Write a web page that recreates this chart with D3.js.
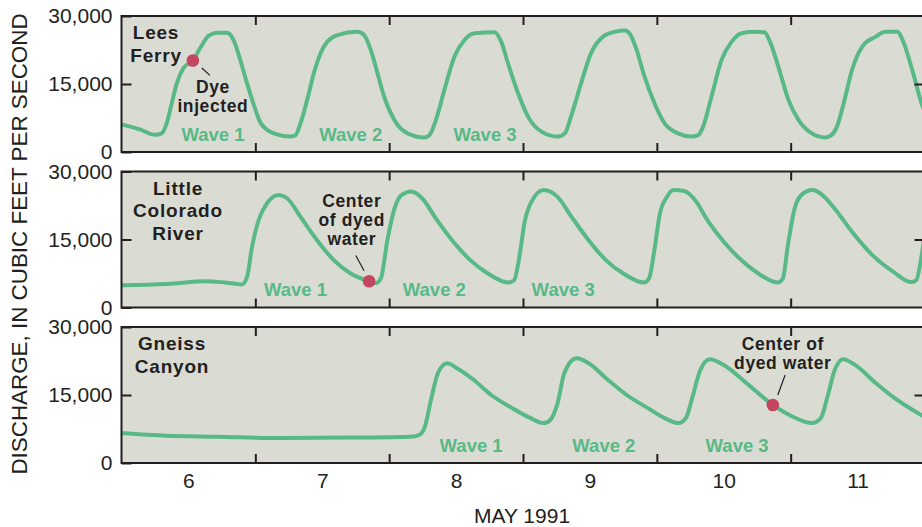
<!DOCTYPE html>
<html>
<head>
<meta charset="utf-8">
<script src="https://cdn.jsdelivr.net/npm/d3@7"></script>
<style>
  body { margin: 0; background: #fff; }
  svg text { font-family: "Liberation Sans", Arial, Helvetica, sans-serif; fill: #231f20; }
</style>
</head>
<body>
<div id="chart"></div>
<script>
// discharge (cubic feet per second) against hours after 00:00, May 6 1991
var leesFerry = [
  [0, 6100], [3.3, 5000], [6.0, 3800], [7.2, 4100], [8.1, 6300], [9.0, 10700],
  [9.9, 15100], [11.1, 18500], [12.8, 20200], [14.1, 22900], [15.6, 25600], [17.1, 26300],
  [18.9, 26300], [20.1, 24700], [21.3, 20300], [22.5, 15200], [23.7, 10500], [25.0, 6300],
  [27.3, 4100], [30.3, 3400], [31.2, 3700], [32.1, 6300], [33.3, 11500], [34.5, 17400],
  [35.7, 21800], [36.9, 24300], [38.7, 25800], [42.3, 26500], [43.5, 25800], [44.7, 22500],
  [45.9, 17400], [47.1, 12200], [48.9, 7100], [51.3, 4100], [54.3, 3200], [55.2, 3700],
  [56.4, 7100], [57.9, 13700], [59.7, 21000], [61.5, 24700], [63.3, 26200], [66.9, 26400],
  [68.1, 24300], [69.3, 19600], [71.1, 13000], [72.9, 7800], [75.3, 4500], [78.3, 3400],
  [79.5, 4100], [80.6, 7800], [82.4, 15100], [84.2, 21800], [86.3, 25400], [88.4, 26500],
  [90.3, 26800], [91.1, 26200], [92.3, 22800], [93.8, 16600], [95.6, 10700], [97.4, 6300],
  [99.8, 4100], [102.2, 3400], [103.4, 3700], [104.3, 5600], [105.8, 12200], [107.6, 20300],
  [109.4, 24300], [111.2, 26200], [113.6, 26500], [115.3, 26400], [116.3, 24300], [117.8, 18800],
  [119.6, 11500], [121.4, 7100], [123.8, 4100], [126.2, 3200], [127.3, 3700], [128.3, 5600],
  [129.5, 10700], [131.0, 18100], [132.8, 23200], [135.2, 25400], [137.0, 26500], [139.1, 26500],
  [140.3, 24000], [141.8, 18100], [143.9, 9300], [144.5, 8000]
];

var littleColorado = [
  [0, 4900], [8.1, 5200], [15.3, 5800], [20.1, 5300], [21.6, 5100], [22.5, 6700],
  [23.4, 13300], [24.6, 19300], [26.1, 23000], [28.2, 24800], [29.7, 24100], [32.1, 20000],
  [35.1, 14800], [38.1, 10400], [41.1, 7500], [44.4, 5800], [45.6, 5400], [46.5, 6400],
  [47.7, 15000], [49.0, 22000], [50.2, 24800], [52.0, 25600], [53.9, 24100], [56.4, 19600],
  [59.5, 14500], [62.6, 10400], [65.7, 7500], [69.4, 5500], [70.4, 6000], [71.3, 10800],
  [72.3, 18900], [73.5, 23300], [75.7, 25900], [78.2, 24400], [80.7, 20000], [83.8, 14800],
  [86.9, 10400], [90.0, 7500], [93.7, 5500], [94.6, 6400], [95.6, 13000], [96.5, 20400],
  [97.8, 24400], [99.0, 25900], [100.9, 25700], [103.1, 23300], [104.9, 19600], [108.0, 14500],
  [111.2, 10400], [114.2, 7500], [117.7, 5500], [118.6, 6400], [119.5, 13700], [120.7, 21800],
  [122.0, 24900], [123.9, 25900], [125.7, 24800], [127.9, 21800], [131.0, 16700], [134.7, 11500],
  [138.5, 7800], [141.6, 5600], [142.5, 6000], [143.4, 10800], [144.2, 18000]
];

var gneissCanyon = [
  [0, 6600], [8.1, 6000], [17.1, 5800], [29.1, 5500], [41.1, 5600], [51.9, 5800],
  [53.4, 6200], [54.4, 8000], [55.6, 14500], [56.8, 20000], [58.4, 22000], [60.3, 20800],
  [63.2, 18300], [66.3, 15000], [70.1, 12100], [73.2, 10000], [75.7, 8800], [76.9, 9500],
  [78.2, 13200], [79.4, 19800], [81.6, 23100], [83.8, 22000], [86.9, 18700], [90.6, 15000],
  [94.4, 12100], [97.4, 9900], [99.9, 8800], [101.2, 9900], [102.4, 14600], [103.7, 20200],
  [105.5, 22900], [108.0, 21600], [111.8, 17900], [116.8, 12800], [120.4, 10200], [123.8, 8800],
  [125.4, 9900], [126.6, 14600], [127.9, 20500], [129.4, 22900], [131.6, 21600], [135.3, 17600],
  [139.1, 13900], [144.5, 9800]
];

var panelNames = [["Lees", "Ferry"], ["Little", "Colorado", "River"], ["Gneiss", "Canyon"]];
var dayTicks = [24, 48, 72, 96, 120];
var dayLabels = ["6", "7", "8", "9", "10", "11"];
var yTicks = [0, 15000, 30000];
var dyeHour = [12.8, 44.4, 116.8];
var dyeCfs = [20200, 5800, 12800];
var dyeText = [["Dye", "injected"], ["Center", "of dyed", "water"], ["Center of", "dyed water"]];
var waveHours = [[16.4, 41.1, 65.2], [31.2, 56.1, 79.2], [62.7, 86.5, 110.4]];

var series = [leesFerry, littleColorado, gneissCanyon];

var width = 922, height = 527;
var panelTop = [16, 171.5, 327];
var panelH = 136;
var green = "#58b987", dotRed = "#c3455f", ink = "#231f20";

// where the title and note text sit inside each panel
var titleX = [156, 178, 172];
var noteLayout = [
  {dx: 20, dy: 32.6, line: [9, 7.6, 17, 15]},
  {dx: -17.3, dy: -74, line: [-13.3, -25.7, -5, -10.5]},
  {dx: 10, dy: -55, line: [12.3, -30, 5, -10]}
];

var x = d3.scaleLinear().domain([0, 144]).range([121.5, 924.5]);

var svg = d3.select("#chart").append("svg")
    .attr("width", width)
    .attr("height", height);

series.forEach(function(data, i) {
    var y = d3.scaleLinear().domain([0, 30000]).range([panelH, 0]);
    var g = svg.append("g").attr("transform", "translate(0," + panelTop[i] + ")");

    g.append("clipPath").attr("id", "clip" + i)
      .append("rect")
      .attr("x", x(0)).attr("y", 0)
      .attr("width", x(144) - x(0)).attr("height", panelH);

    g.append("rect")
      .attr("x", x(0)).attr("y", 0)
      .attr("width", x(144) - x(0)).attr("height", panelH)
      .attr("fill", "#dadcd4");

    var line = d3.line()
      .x(function(d) { return x(d[0]); })
      .y(function(d) { return y(d[1]); })
      .curve(d3.curveMonotoneX);

    g.append("path")
      .datum(data)
      .attr("clip-path", "url(#clip" + i + ")")
      .attr("d", line)
      .attr("fill", "none")
      .attr("stroke", green)
      .attr("stroke-width", 4)
      .attr("stroke-linejoin", "round")
      .attr("stroke-linecap", "round");

    // y axis, left with labels, right with inner tick only
    var yAxis = g.append("g")
      .attr("transform", "translate(" + x(0) + ",0)")
      .call(d3.axisLeft(y).tickValues(yTicks).tickFormat(d3.format(",")).tickSize(-10).tickPadding(9));
    yAxis.select(".domain").remove();
    yAxis.selectAll("text").style("font-size", "21px").attr("fill", ink);
    yAxis.selectAll("line").attr("stroke", ink).attr("stroke-width", 2);

    var yAxisR = g.append("g")
      .attr("transform", "translate(" + x(144) + ",0)")
      .call(d3.axisRight(y).tickValues([15000]).tickFormat("").tickSize(-10));
    yAxisR.select(".domain").remove();
    yAxisR.selectAll("line").attr("stroke", ink).attr("stroke-width", 2);

    // day boundary ticks on top and bottom edges
    var xTop = g.append("g")
      .call(d3.axisTop(x).tickValues(dayTicks).tickFormat("").tickSize(-9));
    xTop.select(".domain").remove();
    xTop.selectAll("line").attr("stroke", ink).attr("stroke-width", 2);

    var xBot = g.append("g")
      .attr("transform", "translate(0," + panelH + ")")
      .call(d3.axisBottom(x).tickValues(dayTicks).tickFormat("").tickSize(-9));
    xBot.select(".domain").remove();
    xBot.selectAll("line").attr("stroke", ink).attr("stroke-width", 2);

    g.append("rect")
      .attr("x", x(0)).attr("y", 0)
      .attr("width", x(144) - x(0)).attr("height", panelH)
      .attr("fill", "none")
      .attr("stroke", ink)
      .attr("stroke-width", 2);

    // station name
    g.append("text")
      .attr("text-anchor", "middle")
      .style("font-size", "19px").style("font-weight", "bold").style("letter-spacing", "0.8px")
      .selectAll("tspan")
      .data(panelNames[i])
      .enter()
      .append("tspan")
      .attr("x", titleX[i])
      .attr("y", function(d, j) { return 23 + j * 22.5; })
      .text(function(d) { return d; });

    // wave labels
    g.selectAll(".wave")
      .data(waveHours[i])
      .enter()
      .append("text")
      .attr("class", "wave")
      .attr("x", function(d) { return x(d); })
      .attr("y", panelH - 11.5)
      .attr("text-anchor", "middle")
      .style("font-size", "18.5px").style("font-weight", "bold")
      .style("fill", green)
      .text(function(d, j) { return "Wave " + (j + 1); });

    // dye marker and its note
    var cx = x(dyeHour[i]), cy = y(dyeCfs[i]);
    var nl = noteLayout[i];
    g.append("line")
      .attr("x1", cx + nl.line[0]).attr("y1", cy + nl.line[1])
      .attr("x2", cx + nl.line[2]).attr("y2", cy + nl.line[3])
      .attr("stroke", ink).attr("stroke-width", 1.2);
    g.append("circle")
      .attr("cx", cx).attr("cy", cy).attr("r", 6.3)
      .attr("fill", dotRed);
    g.append("text")
      .attr("text-anchor", "middle")
      .style("font-size", "17.5px").style("font-weight", "bold").style("letter-spacing", "0.6px")
      .selectAll("tspan")
      .data(dyeText[i])
      .enter()
      .append("tspan")
      .attr("x", cx + nl.dx)
      .attr("y", function(d, j) { return cy + nl.dy + j * 19; })
      .text(function(d) { return d; });
});

// day labels under the bottom panel, centred on noon
var xLab = svg.append("g")
  .attr("transform", "translate(0," + (panelTop[2] + panelH) + ")")
  .call(d3.axisBottom(x)
    .tickValues(dayLabels.map(function(d, i) { return 12 + i * 24; }))
    .tickFormat(function(d, i) { return dayLabels[i]; })
    .tickSize(0).tickPadding(10));
xLab.select(".domain").remove();
xLab.selectAll("text").style("font-size", "21px").attr("fill", ink);

svg.append("text")
  .attr("x", 522).attr("y", 523)
  .attr("text-anchor", "middle")
  .style("font-size", "21px")
  .text("MAY 1991");

svg.append("text")
  .attr("transform", "translate(26.5,244) rotate(-90)")
  .attr("text-anchor", "middle")
  .style("font-size", "22.4px")
  .text("DISCHARGE, IN CUBIC FEET PER SECOND");
</script>
</body>
</html>
